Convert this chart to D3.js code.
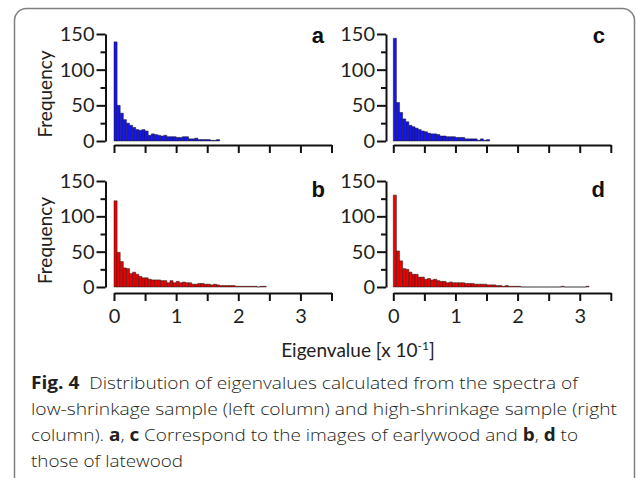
<!DOCTYPE html>
<html>
<head>
<meta charset="utf-8">
<script src="https://cdn.jsdelivr.net/npm/d3@7"></script>
<style>
  body { margin: 0; background: #fff; }
  svg text { white-space: pre; }
</style>
</head>
<body>
<svg id="chart" width="636" height="478"></svg>
<script>
// bin width of the histograms, in units of 10^-1
const binWidth = 0.05;

// frequency per bin
const countsA = [139, 50, 39, 30, 25, 22, 19, 16, 15, 16, 14, 8, 10, 9, 8, 7, 8, 6, 6, 6,
                 5, 5, 6, 6, 3, 3, 4, 2, 2, 2, 2, 1, 1, 2];
const countsC = [144, 54, 40, 31, 27, 22, 20, 18, 16, 14, 13, 11, 10, 10, 9, 7, 7, 6, 6, 6,
                 5, 5, 5, 3, 3, 3, 3, 1, 3, 1, 2];
const countsB = [122, 49, 36, 27, 26, 19, 21, 18, 15, 13, 13, 11, 10, 10, 10, 9, 9, 6, 9, 6,
                 8, 6, 7, 6, 6, 4, 4, 5, 5, 4, 4, 3, 4, 3, 2, 2, 2, 2, 2, 1,
                 1, 1, 1, 1, 1, 1, 0, 1, 1];
const countsD = [130, 51, 37, 26, 25, 21, 18, 18, 14, 14, 11, 12, 10, 11, 9, 8, 8, 6, 7, 6,
                 6, 6, 6, 5, 5, 5, 4, 4, 4, 4, 3, 3, 3, 2, 2, 1, 2, 1, 1, 1,
                 1, 0, 0, 0, 0, 0, 0, 0, 0, 0, 0, 0, 0, 0, 1, 0, 0, 0, 0, 0,
                 0, 0, 1];

const xTicks = [0, 0.5, 1, 1.5, 2, 2.5, 3, 3.5];
const yMajorTicks = [0, 50, 100, 150];
const yMinorTicks = [25, 75, 125];
const panelLetters = ['a', 'c', 'b', 'd'];

const BLUE = '#1414f0', RED = '#ee0000', INK = '#231f20';
const AXIS_FONT = 'Lato, "Open Sans", sans-serif';
const FONT = '"Open Sans", "Noto Sans", sans-serif';

const svg = d3.select('#chart');

// frame round the figure (rounded top corners, open at the bottom)
svg.append('rect')
    .attr('x', 14.5).attr('y', 8.5)
    .attr('width', 620).attr('height', 520)
    .attr('rx', 12)
    .attr('fill', 'none')
    .attr('stroke', '#808080')
    .attr('stroke-width', 1.5);

const panels = [
    { counts: countsA, color: BLUE, axisX: 105.5, x0: 114, top: 34, bottom: 141, xAxisY: 145, letterX: 324, letterY: 43, labels: false, yTitle: true },
    { counts: countsC, color: BLUE, axisX: 386, x0: 393.3, top: 34, bottom: 141, xAxisY: 145, letterX: 605, letterY: 43, labels: false, yTitle: false },
    { counts: countsB, color: RED, axisX: 105.5, x0: 114, top: 181, bottom: 287, xAxisY: 293, letterX: 325, letterY: 197, labels: true, yTitle: true },
    { counts: countsD, color: RED, axisX: 386, x0: 393.3, top: 181, bottom: 287, xAxisY: 293, letterX: 605, letterY: 197, labels: true, yTitle: false }
];

panels.forEach((p, i) => {
    const x = d3.scaleLinear().domain([0, 3.5]).range([p.x0, p.x0 + 217.5]);
    const y = d3.scaleLinear().domain([0, 150]).range([p.bottom, p.top]);

    // bars drawn as paths so empty bins still show as a line
    svg.append('g')
        .selectAll('path')
        .data(p.counts)
        .enter()
        .append('path')
        .attr('d', (d, k) => {
            const xa = x(k * binWidth), xb = x((k + 1) * binWidth);
            return `M${xa},${y(0)}V${y(d)}H${xb}V${y(0)}Z`;
        })
        .attr('fill', p.color)
        .attr('stroke', '#1a1a1a')
        .attr('stroke-width', 0.5);

    // y axis: major ticks with labels, minor ticks without
    svg.append('g')
        .attr('transform', `translate(${p.axisX},0)`)
        .call(d3.axisLeft(y).tickValues(yMajorTicks).tickSize(9).tickSizeOuter(0).tickPadding(2))
        .attr('font-family', AXIS_FONT)
        .attr('font-size', 20);
    svg.append('g')
        .attr('transform', `translate(${p.axisX},0)`)
        .call(d3.axisLeft(y).tickValues(yMinorTicks).tickSize(5).tickFormat(''))
        .call(g => g.select('.domain').remove());

    // x axis, offset below the zero line
    const xAxis = svg.append('g')
        .attr('transform', `translate(0,${p.xAxisY})`)
        .call(d3.axisBottom(x).tickValues(xTicks).tickSize(8).tickSizeOuter(0)
            .tickFormat(d => (p.labels && Number.isInteger(d)) ? d : ''))
        .attr('font-family', AXIS_FONT)
        .attr('font-size', 20);
    xAxis.selectAll('text').attr('y', 30).attr('dy', 0);

    svg.selectAll('.domain, .tick line')
        .attr('stroke', '#111')
        .attr('stroke-width', 2);
    svg.selectAll('.tick text').attr('fill', INK);

    if (p.yTitle) {
        svg.append('text')
            .attr('transform', `translate(52,${(p.top + p.bottom) / 2 + 6.5}) rotate(-90)`)
            .attr('text-anchor', 'middle')
            .attr('font-family', AXIS_FONT)
            .attr('font-size', 19)
            .attr('fill', INK)
            .text('Frequency');
    }

    svg.append('text')
        .attr('x', p.letterX).attr('y', p.letterY)
        .attr('text-anchor', 'end')
        .attr('font-family', '"Liberation Sans", Arial, sans-serif')
        .attr('font-weight', 'bold')
        .attr('font-size', 22)
        .attr('fill', '#111')
        .text(panelLetters[i]);
});

// shared x title
const xTitle = svg.append('text')
    .attr('x', 358).attr('y', 357)
    .attr('text-anchor', 'middle')
    .attr('font-family', AXIS_FONT)
    .attr('font-size', 19)
    .attr('fill', INK);
xTitle.append('tspan').text('Eigenvalue [x 10');
xTitle.append('tspan').attr('font-size', 12).attr('dy', -7).text('-1');
xTitle.append('tspan').attr('dy', 7).text(']');

// caption
const captionLines = [
    { y: 389, len: 547, parts: [['Fig. 4', true], ['  Distribution of eigenvalues calculated from the spectra of', false]] },
    { y: 415, len: 586, parts: [['low-shrinkage sample (left column) and high-shrinkage sample (right', false]] },
    { y: 441, len: 547, parts: [['column). ', false], ['a', true], [', ', false], ['c', true],
        [' Correspond to the images of earlywood and ', false], ['b', true], [', ', false], ['d', true], [' to', false]] },
    { y: 467, len: 152, parts: [['those of latewood', false]] }
];

captionLines.forEach(line => {
    const t = svg.append('text')
        .attr('x', 31).attr('y', line.y)
        .attr('font-family', FONT)
        .attr('font-size', 17)
        .attr('font-weight', 300)
        .attr('fill', INK)
        .attr('textLength', line.len)
        .attr('lengthAdjust', 'spacingAndGlyphs');
    line.parts.forEach(([s, bold]) => {
        t.append('tspan').attr('font-weight', bold ? 'bold' : null).text(s);
    });
});
</script>
</body>
</html>
